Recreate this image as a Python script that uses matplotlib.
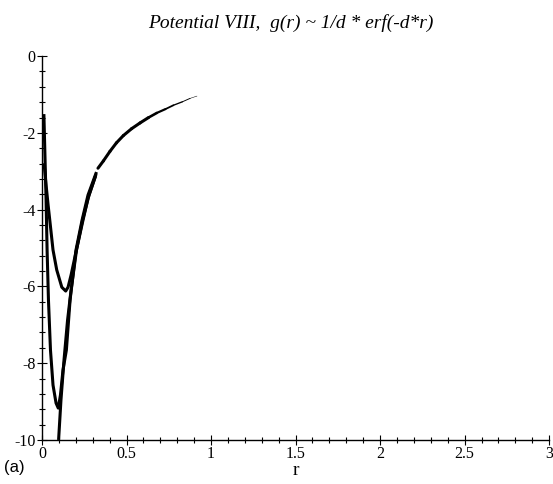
import matplotlib
matplotlib.use("Agg")
import matplotlib.pyplot as plt
from matplotlib.collections import LineCollection
from matplotlib.ticker import MultipleLocator

# ---------- data ----------

# curve starting near -1.5, deep minimum around -9.2
r1 = [0.011, 0.018, 0.024, 0.030, 0.038, 0.050, 0.065, 0.083, 0.096,
      0.109, 0.124, 0.144, 0.166, 0.201, 0.237, 0.272, 0.322]
g1 = [-1.51, -2.71, -3.75, -5.05, -6.35, -7.66, -8.57, -9.04, -9.17,
      -8.83, -8.18, -7.66, -6.35, -5.05, -4.27, -3.62, -3.02]

# curve starting near -2.8, shallow minimum around -6.1
r2 = [0.012, 0.024, 0.036, 0.047, 0.065, 0.087, 0.117, 0.140, 0.154,
      0.172, 0.201, 0.237, 0.272, 0.317]
g2 = [-2.79, -3.36, -3.88, -4.32, -5.05, -5.57, -6.02, -6.12, -6.02,
      -5.70, -5.10, -4.38, -3.70, -3.12]

# curve coming up from the bottom edge
r3 = [0.098, 0.112, 0.130, 0.151, 0.172, 0.204, 0.240, 0.278, 0.320]
g3 = [-10.0, -8.96, -7.92, -6.88, -6.09, -5.05, -4.27, -3.62, -3.07]

# common tail after the small gap
r_tail = [0.331, 0.363, 0.402, 0.440, 0.481, 0.530, 0.580, 0.630,
          0.679, 0.730, 0.777, 0.830, 0.876, 0.917]
g_tail = [-2.92, -2.73, -2.48, -2.26, -2.07, -1.89, -1.74, -1.60,
          -1.48, -1.38, -1.28, -1.19, -1.10, -1.04]

x_ticks = [0, 0.5, 1, 1.5, 2, 2.5, 3]
x_labels = ["0", "0.5", "1", "1.5", "2", "2.5", "3"]
y_ticks = [0, -2, -4, -6, -8, -10]
y_labels = ["0", "-2", "-4", "-6", "-8", "-10"]

# ---------- figure ----------

serif = "Liberation Serif"

fig = plt.figure(figsize=(5.53, 4.84), dpi=100)
ax = fig.add_axes([0.076, 0.091, 0.917, 0.793])

lw = 2.2
for rr, gg in ((r1, g1), (r2, g2), (r3, g3)):
    ax.plot(rr, gg, color="black", lw=lw, solid_joinstyle="round",
            solid_capstyle="butt")

# tail fades out towards its end, as in the scan
segs = [[(r_tail[i], g_tail[i]), (r_tail[i + 1], g_tail[i + 1])]
        for i in range(len(r_tail) - 1)]
n = len(segs)
widths = [lw if i < n - 6 else lw * (1 - 0.14 * (i - (n - 7))) for i in range(n)]
ax.add_collection(LineCollection(segs, colors="black", linewidths=widths,
                                 capstyle="round"))

ax.set_xlim(0, 3)
ax.set_ylim(-10, 0)

for side in ("top", "right"):
    ax.spines[side].set_visible(False)
for side in ("left", "bottom"):
    ax.spines[side].set_linewidth(1.0)

ax.set_xticks(x_ticks)
ax.set_xticklabels(x_labels, fontfamily=serif, fontsize=11.5)
ax.set_yticks(y_ticks)
ax.set_yticklabels(y_labels, fontfamily=serif, fontsize=11.5)
ax.xaxis.set_minor_locator(MultipleLocator(0.1))
ax.yaxis.set_minor_locator(MultipleLocator(0.4))
ax.tick_params(which="major", direction="inout", length=7, width=0.8, pad=1)
ax.tick_params(which="minor", direction="inout", length=4, width=0.8)

fig.text(0.525, 0.953, "Potential VIII,  g(r) ~ 1/d * erf(-d*r)",
         ha="center", va="center", fontfamily=serif, fontstyle="italic",
         fontsize=14)
fig.text(0.535, 0.028, "r", ha="center", va="center",
         fontfamily=serif, fontsize=14)
fig.text(0.008, 0.035, "(a)", ha="left", va="center",
         fontfamily="Liberation Sans", fontsize=12)

fig.savefig("out.png", dpi=100)
